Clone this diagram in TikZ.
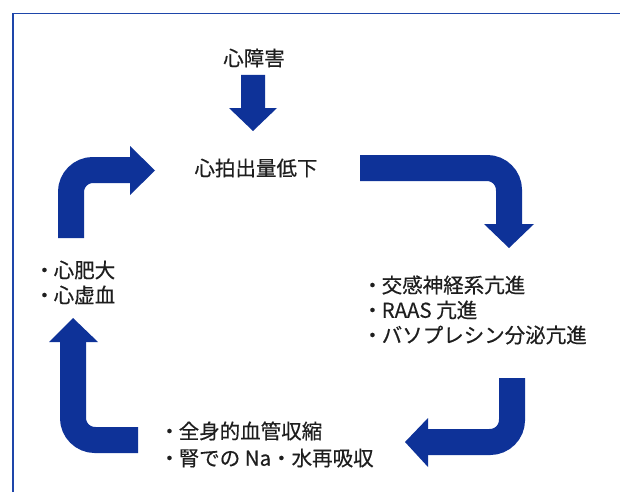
\documentclass[tikz,border=0pt]{standalone}
\usepackage{fontspec}
\newfontfamily\jp[FakeBold=0.4]{Noto Sans CJK JP}
\definecolor{arrowblue}{RGB}{14,50,152}
\definecolor{frameblue}{RGB}{30,70,170}
\definecolor{txt}{RGB}{30,30,30}
\newcommand{\bul}{・\kern-1pt}
\begin{document}
\begin{tikzpicture}[x=1pt,y=-1pt,
  lbl/.style={font=\jp\fontsize{20.5}{24}\selectfont, text=txt, inner sep=0pt},
  shaft/.style={draw=arrowblue, line width=26pt, rounded corners=22pt, line cap=butt},
  head/.style={fill=arrowblue}]
\useasboundingbox (0,0) rectangle (620,492);
\fill[white] (0,0) rectangle (620,492);
% frame
\draw[frameblue, line width=1.8pt] (13,492) -- (13,13.5) -- (620,13.5);

% texts
\node[lbl] (cause) at (254,58) {心障害};
\node[lbl] (co) at (256,168) {心拍出量低下};
\node[lbl, anchor=west] (l1) at (34,270) {\bul 心肥大};
\node[lbl, anchor=west] (l2) at (34,295) {\bul 心虚血};
\node[lbl, anchor=west] (r1) at (362,285) {\bul 交感神経系亢進};
\node[lbl, anchor=west] (r2) at (362,310) {\bul RAAS 亢進};
\node[lbl, anchor=west] (r3) at (362,335) {\bul バソプレシン分泌亢進};
\node[lbl, anchor=west] (b1) at (159,431) {\bul 全身的血管収縮};
\node[lbl, anchor=west] (b2) at (159,458) {\bul 腎での Na・水再吸収};

% down arrow from cause
\fill[head] (241,75) -- (265,75) -- (265,108) -- (277,108) -- (253,131) -- (229,108) -- (241,108) -- cycle;

% top-right bent arrow
\coordinate (tr0) at (360,168);
\coordinate (tr1) at (509,168);
\coordinate (tr2) at (509,225);
\draw[shaft] (tr0) -- (tr1) -- (tr2);
\fill[head] (484,224) -- (534,224) -- (509,248) -- cycle;

% bottom-right bent arrow
\coordinate (br0) at (512,378);
\coordinate (br1) at (512,442);
\coordinate (br2) at (427,442);
\draw[shaft] (br0) -- (br1) -- (br2);
\fill[head] (428,418) -- (428,467) -- (405,442) -- cycle;

% bottom-left bent arrow (up)
\coordinate (bl0) at (138,440);
\coordinate (bl1) at (73,440);
\coordinate (bl2) at (73,341);
\draw[shaft] (bl0) -- (bl1) -- (bl2);
\fill[head] (49,342) -- (98,342) -- (73,318) -- cycle;

% top-left bent arrow
\coordinate (tl0) at (71,238);
\coordinate (tl1) at (71,170);
\coordinate (tl2) at (131,170);
\draw[shaft] (tl0) -- (tl1) -- (tl2);
\fill[head] (130,146) -- (130,195) -- (155,170.5) -- cycle;
\end{tikzpicture}
\end{document}
